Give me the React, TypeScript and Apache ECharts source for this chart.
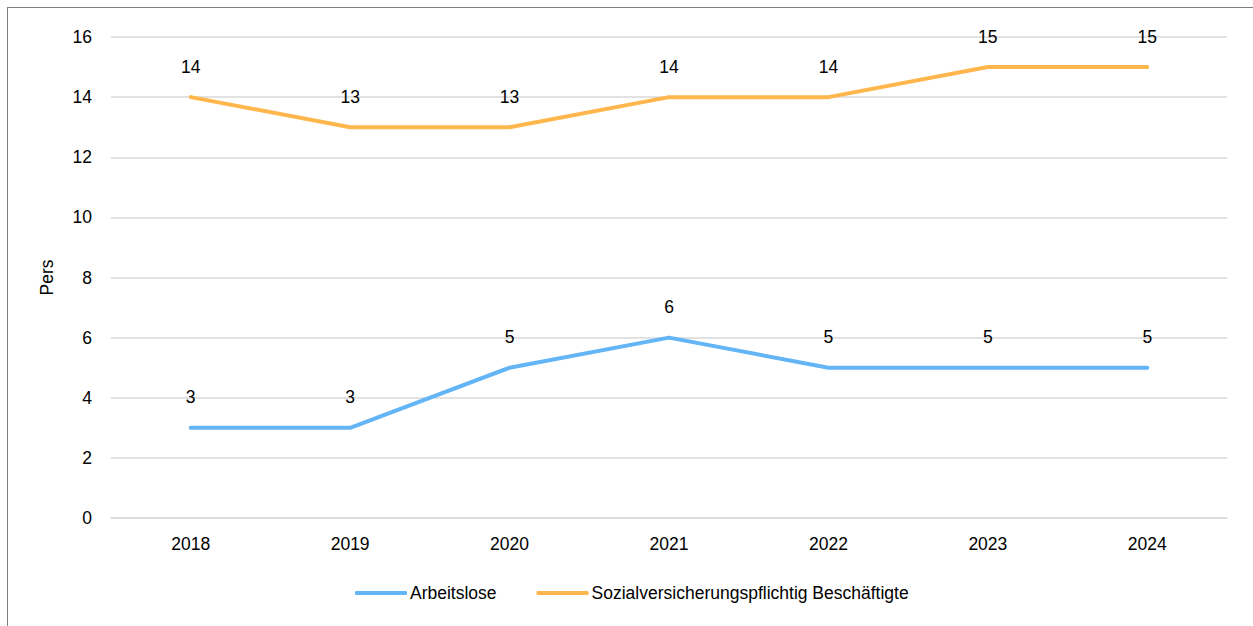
import React, { useEffect, useRef } from "react";
import * as echarts from "echarts";

const years = ["2018", "2019", "2020", "2021", "2022", "2023", "2024"];
const arbeitslose = [3, 3, 5, 6, 5, 5, 5];
const beschaeftigte = [14, 13, 13, 14, 14, 15, 15];
const seriesNames = ["Arbeitslose", "Sozialversicherungspflichtig Beschäftigte"];
const colors = ["#64B5F6", "#FFB74D"];

export default function App() {
  const ref = useRef<HTMLDivElement>(null);
  useEffect(() => {
    const chart = echarts.init(ref.current!, null, { renderer: "svg" });
    const font = "Liberation Sans, Arial, sans-serif";
    const fs = 17.5;
    const mk = (name: string, data: number[], color: string) => ({
      name,
      type: "line",
      data,
      symbol: "circle",
      symbolSize: 3,
      itemStyle: { color },
      lineStyle: { color, width: 4, cap: "round", join: "round" },
      label: {
        show: true,
        position: "top",
        distance: 20,
        color: "#000",
        fontSize: fs,
        fontFamily: font,
      },
    });
    chart.setOption({
      animation: false,
      textStyle: { fontFamily: font },
      grid: { left: 111, right: 26, top: 37, bottom: 108 },
      legend: {
        left: 350,
        top: 579,
        itemWidth: 52,
        itemHeight: 4,
        itemGap: 40,
        icon: "roundRect",
        textStyle: { fontSize: fs, color: "#000", fontFamily: font, padding: [0, 0, 0, -2] },
        data: seriesNames,
      },
      xAxis: {
        type: "category",
        data: years,
        boundaryGap: true,
        axisLine: { show: true, lineStyle: { color: "#d9d9d9", width: 1.5 } },
        axisTick: { show: false },
        axisLabel: { color: "#000", fontSize: fs, margin: 17, fontFamily: font },
      },
      yAxis: {
        type: "value",
        min: 0,
        max: 16,
        interval: 2,
        name: "Pers",
        nameLocation: "middle",
        nameRotate: 90,
        nameGap: 55,
        nameTextStyle: { color: "#000", fontSize: fs, fontFamily: font },
        axisLine: { show: false },
        axisTick: { show: false },
        axisLabel: { color: "#000", fontSize: fs, margin: 19, fontFamily: font },
        splitLine: { lineStyle: { color: "#d9d9d9", width: 1.5 } },
      },
      series: [
        mk(seriesNames[0], arbeitslose, colors[0]),
        mk(seriesNames[1], beschaeftigte, colors[1]),
      ],
    });
    return () => chart.dispose();
  }, []);
  return (
    <div style={{ position: "fixed", left: 0, top: 0, width: 1253, height: 626, overflow: "hidden", background: "#fff" }}>
      <div
        style={{
          position: "absolute",
          left: 7,
          top: 7,
          width: 1400,
          height: 800,
          borderLeft: "1px solid #7f7f7f",
          borderTop: "1px solid #7f7f7f",
        }}
      />
      <div ref={ref} style={{ position: "absolute", left: 0, top: 0, width: 1253, height: 626 }} />
    </div>
  );
}
